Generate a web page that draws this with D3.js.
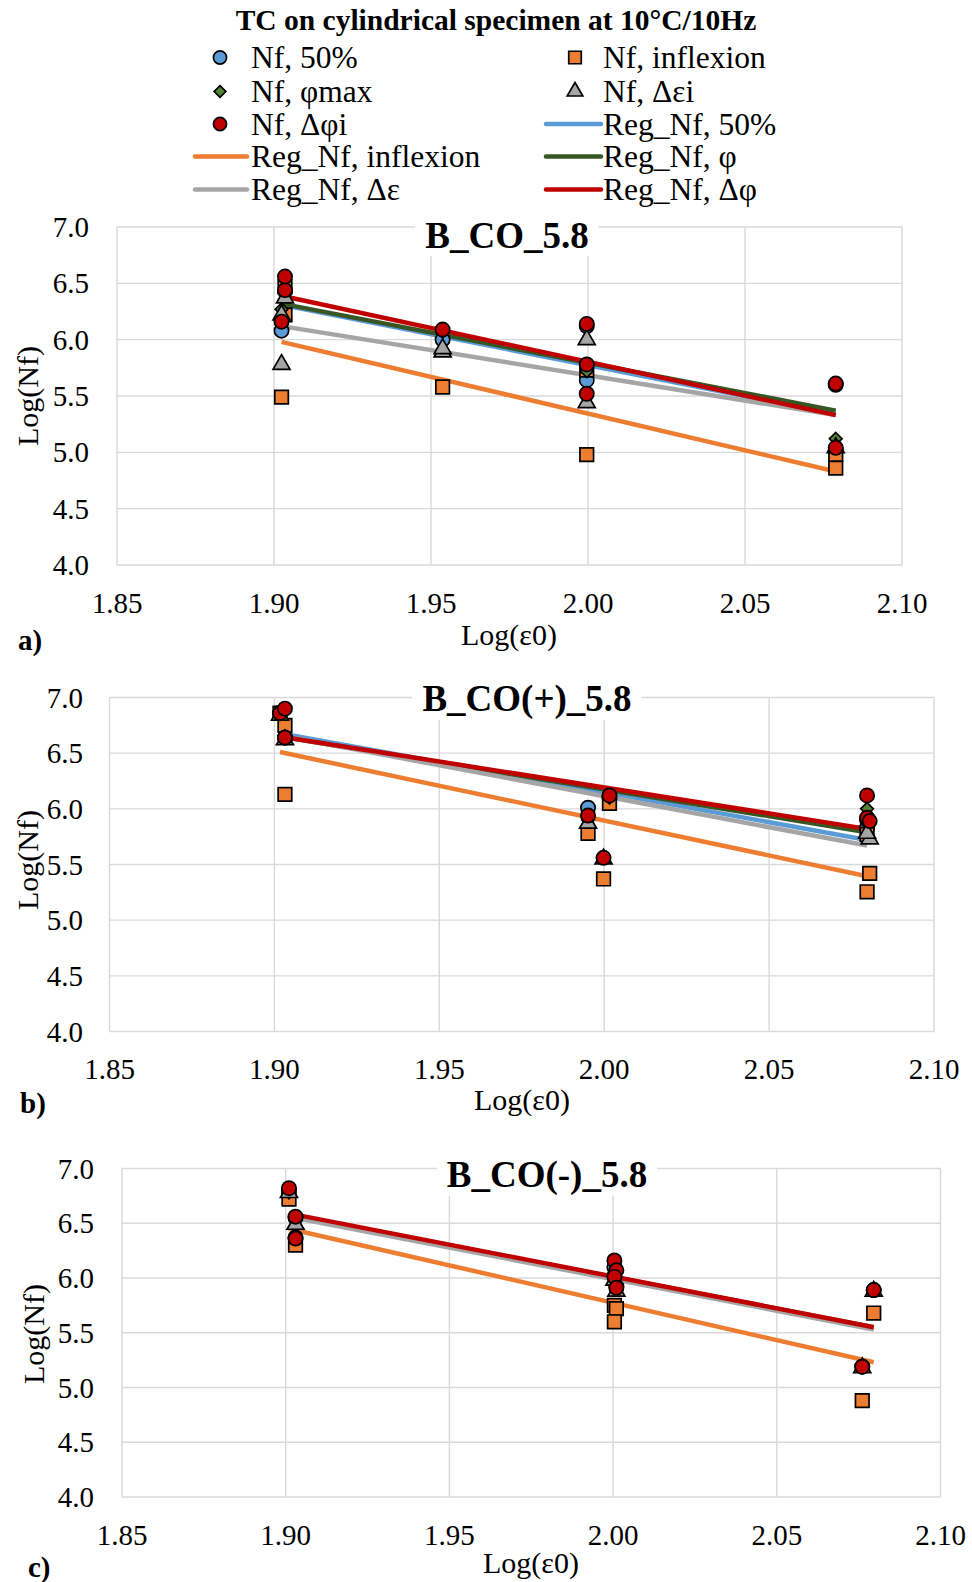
<!DOCTYPE html>
<html>
<head>
<meta charset="utf-8">
<script src="https://cdn.jsdelivr.net/npm/d3@7/dist/d3.min.js"></script>
<style>
  html, body { margin: 0; padding: 0; background: #fff; }
  svg { display: block; }
  text { font-family: "Liberation Serif", "Times New Roman", serif; fill: #000; }
</style>
</head>
<body>
<svg id="chart" width="972" height="1582"></svg>
<script>
// ---------- tick labels ----------
const xTicks = [1.85, 1.90, 1.95, 2.00, 2.05, 2.10];
const yTicks = [4.0, 4.5, 5.0, 5.5, 6.0, 6.5, 7.0];

// ---------- series names ----------
const pointSeriesNames = ["Nf, 50%", "Nf, inflexion", "Nf, φmax", "Nf, Δεi", "Nf, Δφi"];
const lineSeriesNames = ["Reg_Nf, 50%", "Reg_Nf, inflexion", "Reg_Nf, φ", "Reg_Nf, Δε", "Reg_Nf, Δφ"];
const panelTitles = ["B_CO_5.8", "B_CO(+)_5.8", "B_CO(-)_5.8"];

// ---------- panel a : [Log(ε0), Log(Nf)] ----------
const a_nf50    = [[1.9024,6.08],[1.9035,6.43],[1.9537,6.00],[1.9996,6.12],[1.9996,5.64],[2.0789,5.60],[2.0789,5.02]];
const a_inflex  = [[1.9024,5.49],[1.9035,6.47],[1.9035,6.22],[1.9537,5.58],[1.9996,5.73],[1.9996,4.98],[2.0789,4.98],[2.0789,4.86]];
const a_phimax  = [[1.9024,6.27],[1.9035,6.43],[1.9537,6.07],[1.9996,6.12],[1.9996,5.72],[2.0789,5.60],[2.0789,5.12]];
const a_deps    = [[1.9024,5.78],[1.9024,6.22],[1.9035,6.37],[1.9537,5.89],[1.9537,5.92],[1.9996,6.00],[1.9996,5.44],[2.0789,5.04]];
const a_dphi    = [[1.9024,6.16],[1.9035,6.44],[1.9035,6.56],[1.9537,6.09],[1.9996,6.14],[1.9996,5.78],[1.9996,5.52],[2.0789,5.61],[2.0789,5.04]];
const a_reg50     = [[1.9024,6.31],[2.0789,5.34]];
const a_regInflex = [[1.9024,5.98],[2.0789,4.83]];
const a_regPhi    = [[1.9024,6.32],[2.0789,5.37]];
const a_regDeps   = [[1.9024,6.12],[2.0789,5.33]];
const a_regDphi   = [[1.9024,6.39],[2.0789,5.33]];

// ---------- panel b ----------
const b_nf50    = [[1.9017,6.86],[1.9032,6.64],[1.9951,6.01],[2.0016,6.10],[2.0797,5.83],[2.0797,5.90]];
const b_inflex  = [[1.9017,6.86],[1.9032,6.75],[1.9032,6.13],[1.9951,5.78],[2.0016,6.05],[1.9998,5.37],[2.0797,5.77],[2.0805,5.42],[2.0797,5.255]];
const b_phimax  = [[1.9017,6.85],[1.9032,6.64],[1.9951,5.90],[2.0016,6.10],[2.0797,6.00]];
const b_deps    = [[1.9017,6.84],[1.9032,6.62],[1.9951,5.87],[1.9998,5.55],[2.0805,5.73],[2.0797,5.78]];
const b_dphi    = [[1.9017,6.86],[1.9032,6.90],[1.9032,6.64],[1.9951,5.94],[2.0016,6.12],[1.9998,5.56],[2.0797,6.12],[2.0797,5.92],[2.0805,5.89]];
const b_reg50     = [[1.9017,6.68],[2.0797,5.72]];
const b_regInflex = [[1.9017,6.51],[2.0797,5.395]];
const b_regPhi    = [[1.9017,6.65],[2.0797,5.79]];
const b_regDeps   = [[1.9017,6.66],[2.0797,5.67]];
const b_regDphi   = [[1.9017,6.65],[2.0797,5.82]];

// ---------- panel c ----------
const c_nf50    = [[1.901,6.80],[1.903,6.55],[1.903,6.37],[2.0004,6.10],[2.001,5.92],[2.0796,5.89],[2.0761,5.19]];
const c_inflex  = [[1.901,6.72],[1.903,6.30],[2.0004,5.75],[2.001,5.72],[2.0004,5.60],[2.0796,5.68],[2.0761,4.88]];
const c_phimax  = [[1.901,6.78],[1.903,6.54],[2.0004,6.05],[2.001,5.95],[2.0796,5.89],[2.0761,5.19]];
const c_deps    = [[1.901,6.78],[1.903,6.49],[2.0004,5.98],[2.001,5.88],[2.0796,5.88],[2.0761,5.18]];
const c_dphi    = [[1.901,6.82],[1.903,6.56],[1.903,6.36],[2.0004,6.16],[2.001,6.07],[2.0004,6.01],[2.001,5.91],[2.0796,5.89],[2.0761,5.19]];
const c_reg50     = [[1.901,6.58],[2.0796,5.54]];
const c_regInflex = [[1.901,6.45],[2.0796,5.23]];
const c_regPhi    = [[1.901,6.58],[2.0796,5.55]];
const c_regDeps   = [[1.901,6.56],[2.0796,5.53]];
const c_regDphi   = [[1.901,6.59],[2.0796,5.55]];

// ---------- marker shapes ----------
const squareDiamond = {
  draw(ctx, size) {
    const h = Math.sqrt(size / 2);
    ctx.moveTo(0, -h); ctx.lineTo(h, 0); ctx.lineTo(0, h); ctx.lineTo(-h, 0); ctx.closePath();
  }
};
const pointStyles = [
  { type: d3.symbolCircle,   size: 160, fill: "#5B9BD5" },
  { type: d3.symbolSquare,   size: 185, fill: "#ED7D31" },
  { type: squareDiamond,     size: 80,  fill: "#548235" },
  { type: d3.symbolTriangle, size: 125, fill: "#A5A5A5" },
  { type: d3.symbolCircle,   size: 160, fill: "#C00000" }
];
const lineColors = ["#5B9BD5", "#ED7D31", "#375623", "#A5A5A5", "#C00000"];

const panels = [
  { title: panelTitles[0], tag: "a)", pts: [a_nf50, a_inflex, a_phimax, a_deps, a_dphi],
    regs: [a_reg50, a_regInflex, a_regPhi, a_regDeps, a_regDphi],
    L: 117, R: 902, T: 227, B: 565, titleX: 507, titleY: 248, yLabX: 89, xLabY: 603,
    axX: 509, axY: 634, ytX: 27, ytY: 396, tagX: 18, tagY: 640 },
  { title: panelTitles[1], tag: "b)", pts: [b_nf50, b_inflex, b_phimax, b_deps, b_dphi],
    regs: [b_reg50, b_regInflex, b_regPhi, b_regDeps, b_regDphi],
    L: 109.5, R: 934, T: 697.5, B: 1031.5, titleX: 527, titleY: 711, yLabX: 83, xLabY: 1069,
    axX: 522, axY: 1099, ytX: 27, ytY: 860, tagX: 20, tagY: 1103 },
  { title: panelTitles[2], tag: "c)", pts: [c_nf50, c_inflex, c_phimax, c_deps, c_dphi],
    regs: [c_reg50, c_regInflex, c_regPhi, c_regDeps, c_regDphi],
    L: 122, R: 940.5, T: 1168.5, B: 1497, titleX: 547, titleY: 1187, yLabX: 94, xLabY: 1535,
    axX: 531, axY: 1562, ytX: 33, ytY: 1334, tagX: 28, tagY: 1567 }
];

const svg = d3.select("#chart");

// ---------- main title ----------
svg.append("text").attr("x", 496).attr("y", 20).attr("text-anchor", "middle")
  .attr("dominant-baseline", "central").style("font-size", "29.5px").style("font-weight", "bold")
  .text("TC on cylindrical specimen at 10°C/10Hz");

// ---------- legend ----------
const legRows = [57.5, 91.5, 124, 156.5, 189.5];
const legItems = [
  { kind: "pt", i: 0, col: 0, row: 0 }, { kind: "pt", i: 1, col: 1, row: 0 },
  { kind: "pt", i: 2, col: 0, row: 1 }, { kind: "pt", i: 3, col: 1, row: 1 },
  { kind: "pt", i: 4, col: 0, row: 2 }, { kind: "ln", i: 0, col: 1, row: 2 },
  { kind: "ln", i: 1, col: 0, row: 3 }, { kind: "ln", i: 2, col: 1, row: 3 },
  { kind: "ln", i: 3, col: 0, row: 4 }, { kind: "ln", i: 4, col: 1, row: 4 }
];
const legCols = [
  { mark: 220, lx0: 195, lx1: 247, tx: 251 },
  { mark: 575, lx0: 546, lx1: 601, tx: 603 }
];
const leg = svg.append("g");
legItems.forEach(it => {
  const c = legCols[it.col], y = legRows[it.row];
  if (it.kind === "pt") {
    const st = pointStyles[it.i];
    leg.append("path").attr("d", d3.symbol().type(st.type).size(st.size * 0.85)())
      .attr("transform", `translate(${c.mark},${y})`)
      .attr("fill", st.fill).attr("stroke", "#000").attr("stroke-width", 1.7);
    leg.append("text").attr("x", c.tx).attr("y", y).attr("dominant-baseline", "central")
      .style("font-size", "31.5px").text(pointSeriesNames[it.i]);
  } else {
    leg.append("line").attr("x1", c.lx0).attr("x2", c.lx1).attr("y1", y).attr("y2", y)
      .attr("stroke", lineColors[it.i]).attr("stroke-width", 4.5).attr("stroke-linecap", "round");
    leg.append("text").attr("x", c.tx).attr("y", y).attr("dominant-baseline", "central")
      .style("font-size", "31.5px").text(lineSeriesNames[it.i]);
  }
});

// ---------- panels ----------
panels.forEach(p => {
  const x = d3.scaleLinear().domain([1.85, 2.10]).range([p.L, p.R]);
  const y = d3.scaleLinear().domain([4.0, 7.0]).range([p.B, p.T]);
  const g = svg.append("g");

  // gridlines
  g.selectAll(".vg").data(xTicks).join("line")
    .attr("x1", d => x(d)).attr("x2", d => x(d)).attr("y1", p.T).attr("y2", p.B)
    .attr("stroke", "#d9d9d9").attr("stroke-width", 1.4);
  g.selectAll(".hg").data(yTicks).join("line")
    .attr("x1", p.L).attr("x2", p.R).attr("y1", d => y(d)).attr("y2", d => y(d))
    .attr("stroke", "#d9d9d9").attr("stroke-width", 1.4);

  // tick labels
  g.selectAll(".xl").data(xTicks).join("text")
    .attr("x", d => x(d)).attr("y", p.xLabY).attr("text-anchor", "middle")
    .attr("dominant-baseline", "central").style("font-size", "29px")
    .text(d => d3.format(".2f")(d));
  g.selectAll(".yl").data(yTicks).join("text")
    .attr("x", p.yLabX).attr("y", d => y(d)).attr("text-anchor", "end")
    .attr("dominant-baseline", "central").style("font-size", "29px")
    .text(d => d3.format(".1f")(d));

  // axis titles
  g.append("text").attr("x", p.axX).attr("y", p.axY).attr("text-anchor", "middle")
    .attr("dominant-baseline", "central").style("font-size", "30px").text("Log(ε0)");
  g.append("text").attr("transform", `translate(${p.ytX},${p.ytY}) rotate(-90)`)
    .attr("text-anchor", "middle").attr("dominant-baseline", "central")
    .style("font-size", "30px").text("Log(Nf)");
  g.append("text").attr("x", p.tagX).attr("y", p.tagY).attr("dominant-baseline", "central")
    .style("font-size", "29px").style("font-weight", "bold").text(p.tag);

  // chart title with white box
  const tt = g.append("text").attr("x", p.titleX).attr("y", p.titleY).attr("text-anchor", "middle")
    .style("font-size", "37px").style("font-weight", "bold").text(p.title);
  const bb = tt.node().getBBox();
  g.insert("rect", function () { return tt.node(); })
    .attr("x", bb.x - 10).attr("y", bb.y).attr("width", bb.width + 20).attr("height", bb.height)
    .attr("fill", "#fff");

  // regression lines
  const lineGen = d3.line().x(d => x(d[0])).y(d => y(d[1]));
  p.regs.forEach((r, i) => {
    g.append("path").attr("d", lineGen(r)).attr("fill", "none")
      .attr("stroke", lineColors[i]).attr("stroke-width", 4.5);
  });

  // markers
  p.pts.forEach((arr, i) => {
    const st = pointStyles[i];
    g.selectAll(null).data(arr).join("path")
      .attr("d", d3.symbol().type(st.type).size(st.size)())
      .attr("transform", d => `translate(${x(d[0])},${y(d[1])})`)
      .attr("fill", st.fill).attr("stroke", "#000").attr("stroke-width", 1.7);
  });
});
</script>
</body>
</html>
